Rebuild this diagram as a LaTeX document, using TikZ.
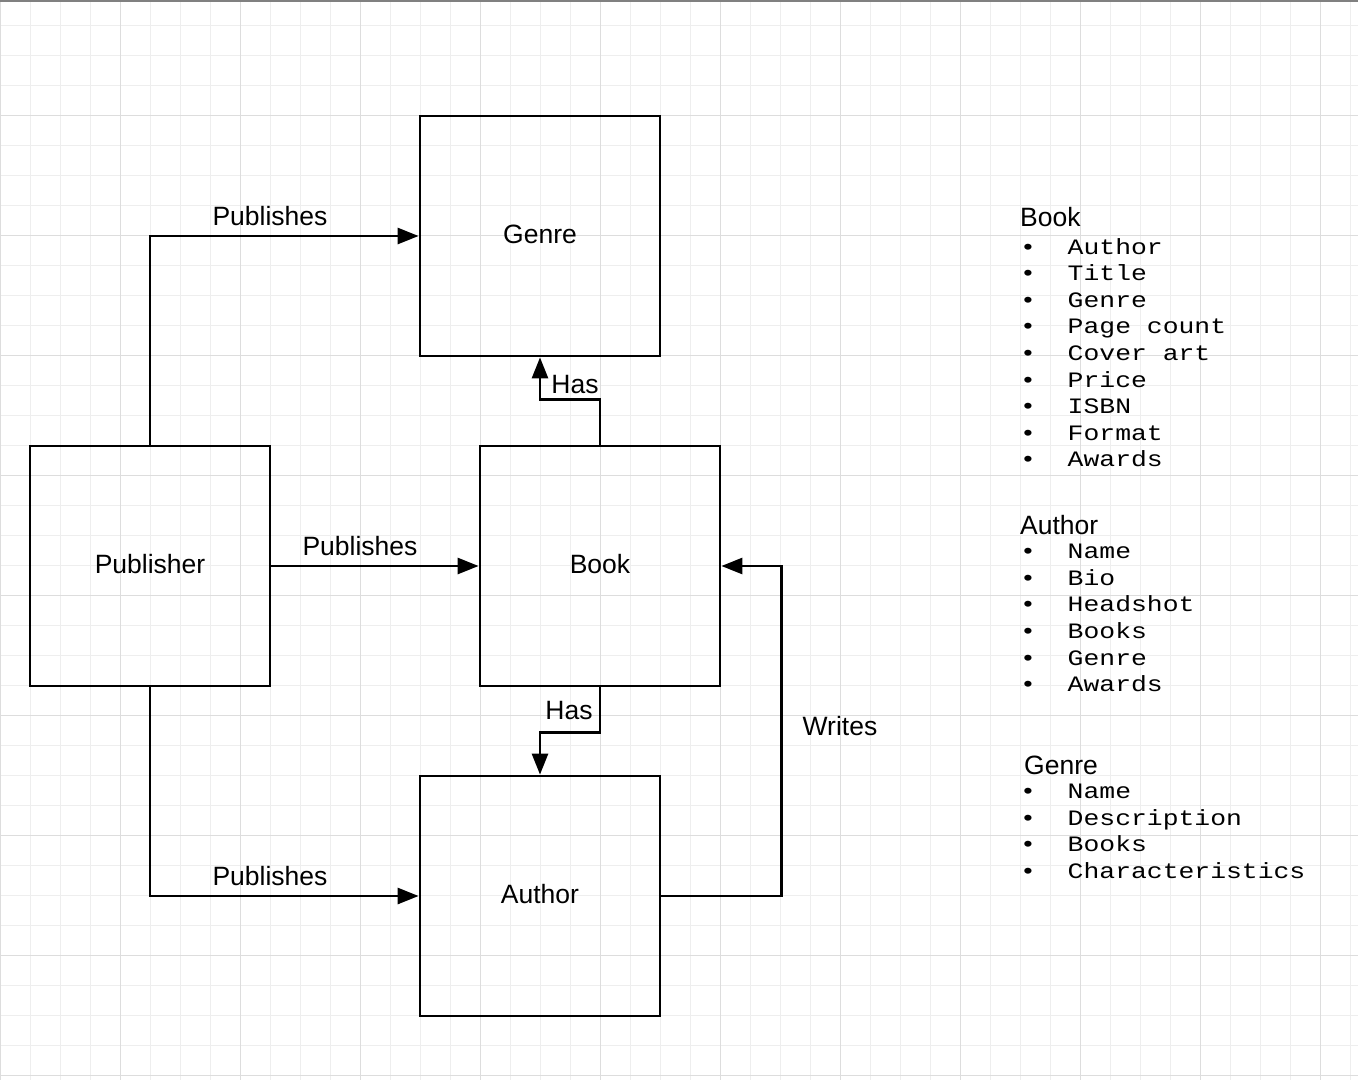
\documentclass[tikz,border=0pt]{standalone}
\usepackage{fontspec}
\setmainfont{Liberation Sans}
\newfontfamily\lmono[FakeStretch=1.2]{Liberation Mono}
\usetikzlibrary{arrows.meta}
\definecolor{gminor}{HTML}{EEEEEE}
\definecolor{gmajor}{HTML}{DDDDDD}
\begin{document}
\begin{tikzpicture}[x=1pt,y=-1pt,
  box/.style={draw,line width=2.8pt,minimum width=240pt,minimum height=240pt,inner sep=0pt,font=\fontsize{26.5}{30}\selectfont},
  conn/.style={line width=2.8pt,-{Triangle[length=21pt,width=16pt]}},
  lbl/.style={font=\fontsize{26.5}{30}\selectfont,inner sep=0pt},
  hd/.style={anchor=west,inner sep=0pt,font=\fontsize{26.5}{30}\selectfont},
  lst/.style={anchor=north west,inner sep=0pt,align=left,font=\lmono\fontsize{22}{26.6}\selectfont}]
\useasboundingbox (0,0) rectangle (1358,1080);
\fill[white] (0,0) rectangle (1358,1080);
\foreach \x in {0,30,...,1350} \draw[gminor,line width=1pt] (\x,0) -- (\x,1080);
\foreach \y in {25,55,...,1075} \draw[gminor,line width=1pt] (0,\y) -- (1358,\y);
\foreach \x in {0,120,...,1350} \draw[gmajor,line width=1pt] (\x,0) -- (\x,1080);
\foreach \y in {115,235,...,1075} \draw[gmajor,line width=1pt] (0,\y) -- (1358,\y);
\draw[gray,line width=2pt] (0,1) -- (1358,1);

\node[box] (genre) at (540,236) {\raisebox{4pt}{Genre}};
\node[box] (pub) at (150,566) {\raisebox{4pt}{Publisher}};
\node[box] (book) at (600,566) {\raisebox{4pt}{Book}};
\node[box] (author) at (540,896) {\raisebox{4pt}{Author}};

\draw[conn] (pub.north) |- (genre.west);
\draw[conn] (pub.east) -- (book.west);
\draw[conn] (pub.south) |- (author.west);
\draw[conn] (book.north) -- ++(0,-45) -| (genre.south);
\draw[conn] (book.south) -- ++(0,45) -| (author.north);
\draw[conn] (author.east) -- ++(120,0) |- (book.east);

\node[lbl] (l1) at (270,216) {Publishes};
\node[lbl] (l2) at (360,546) {Publishes};
\node[lbl] (l3) at (270,876) {Publishes};
\node[lbl] (l4) at (575,385) {Has};
\node[lbl] (l5) at (569,711) {Has};
\node[lbl] (l6) at (840,726) {Writes};

\node[hd] (hb) at (1020,217) {Book};
\node[lst] (lb) at (1020,238) {\textbullet\ \ Author\\ \textbullet\ \ Title\\ \textbullet\ \ Genre\\ \textbullet\ \ Page count\\ \textbullet\ \ Cover art\\ \textbullet\ \ Price\\ \textbullet\ \ ISBN\\ \textbullet\ \ Format\\ \textbullet\ \ Awards};
\node[hd] (ha) at (1020,525) {Author};
\node[lst] (la) at (1020,544) {\textbullet\ \ Name\\ \textbullet\ \ Bio\\ \textbullet\ \ Headshot\\ \textbullet\ \ Books\\ \textbullet\ \ Genre\\ \textbullet\ \ Awards};
\node[hd] (hg) at (1024,765) {Genre};
\node[lst] (lg) at (1020,784) {\textbullet\ \ Name\\ \textbullet\ \ Description\\ \textbullet\ \ Books\\ \textbullet\ \ Characteristics};
\end{tikzpicture}
\end{document}
